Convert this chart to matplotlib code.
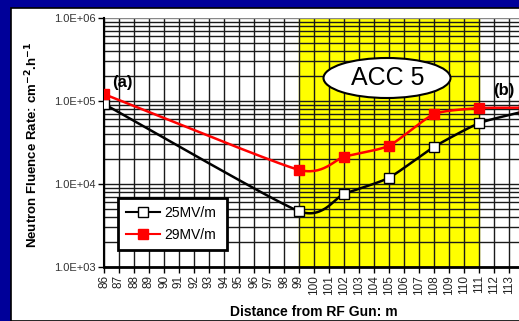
import numpy as np
import matplotlib
matplotlib.use("Agg")
import matplotlib.pyplot as plt
from matplotlib.patches import Ellipse, Rectangle
from matplotlib.lines import Line2D

plt.rcParams['font.family'] = ['Liberation Sans', 'DejaVu Sans']

# ---- data ----
dist = [86, 99, 102, 105, 108, 111, 114]
rate_25 = [9.2e4, 4.7e3, 7.6e3, 1.19e4, 2.8e4, 5.4e4, 7.5e4]
rate_29 = [1.21e5, 1.48e4, 2.13e4, 2.89e4, 6.96e4, 8.2e4, 8.3e4]
series_labels = ["25MV/m", "29MV/m"]
xticks = list(range(86, 114))
yticks = [1e3, 1e4, 1e5, 1e6]
ytick_labels = ["1.0E+03", "1.0E+04", "1.0E+05", "1.0E+06"]
acc_span = (99, 111)

W, H = 519, 321
fig = plt.figure(figsize=(W / 100, H / 100), dpi=100)
fig.patch.set_facecolor('#000099')

# white panel with black border line
fig.add_artist(Rectangle((11 / W, 0), 1, 1 - 8 / H, transform=fig.transFigure,
                         facecolor='white', edgecolor='black', linewidth=1.2, zorder=0))


def catmull(xs, ys, n=30):
    xs = np.asarray(xs, float)
    ys = np.asarray(ys, float)
    px = np.concatenate([[2 * xs[0] - xs[1]], xs, [2 * xs[-1] - xs[-2]]])
    py = np.concatenate([[2 * ys[0] - ys[1]], ys, [2 * ys[-1] - ys[-2]]])
    ox, oy = [], []
    for i in range(1, len(px) - 2):
        t = np.linspace(0, 1, n, endpoint=False)
        for arr, out in ((px, ox), (py, oy)):
            p0, p1, p2, p3 = arr[i - 1], arr[i], arr[i + 1], arr[i + 2]
            m1 = (p2 - p0) / 2 * 0.6
            m2 = (p3 - p1) / 2 * 0.6
            h00 = 2 * t**3 - 3 * t**2 + 1
            h10 = t**3 - 2 * t**2 + t
            h01 = -2 * t**3 + 3 * t**2
            h11 = t**3 - t**2
            out.extend(h00 * p1 + h10 * m1 + h01 * p2 + h11 * m2)
    ox.append(xs[-1])
    oy.append(ys[-1])
    return np.array(ox), np.array(oy)


left = 104 / W
bottom = 1 - 267 / H
top = 1 - 18 / H
x0, x1 = 86, 116
width = (x1 - x0) * 15 / W
ax = fig.add_axes([left, bottom, width, top - bottom])
ax.set_facecolor('white')
ax.set_xlim(x0, x1)
ax.set_yscale('log')
ax.set_ylim(1e3, 1e6)

ax.axvspan(acc_span[0], acc_span[1], color='#ffff00', zorder=0.5)

# grid
for xv in range(x0, x1 + 1):
    ax.axvline(xv, color='#1a1a1a', lw=1.0, zorder=1)
for dec in [1e3, 1e4, 1e5]:
    for m in range(1, 10):
        ax.axhline(dec * m, color='#1a1a1a', lw=1.0, zorder=1)
ax.axhline(1e6, color='#888888', lw=1.0, zorder=1)

sx, sy = catmull(dist, np.log10(rate_25))
ax.plot(sx, 10**sy, color='black', lw=1.8, zorder=3)
ax.plot(dist, rate_25, ls='none', marker='s', ms=7.5, mfc='white', mec='black', mew=1.0, zorder=4)

sx, sy = catmull(dist, np.log10(rate_29))
ax.plot(sx, 10**sy, color='#ff0000', lw=1.8, zorder=3)
ax.plot(dist, rate_29, ls='none', marker='s', ms=7.5, mfc='#ff0000', mec='#ff0000', zorder=4)

ax.set_xticks(xticks)
ax.set_xticklabels([str(v) for v in xticks], rotation=90, fontsize=8.5, color='#222222')
ax.set_yticks(yticks)
ax.set_yticklabels(ytick_labels, fontsize=8, color='#333333')
ax.yaxis.set_minor_locator(matplotlib.ticker.NullLocator())
ax.tick_params(axis='x', length=4, width=1, pad=2)
ax.tick_params(axis='y', length=4, width=1, pad=2)
for s in ['top', 'right']:
    ax.spines[s].set_visible(False)
ax.spines['left'].set_linewidth(1.5)
ax.spines['bottom'].set_linewidth(2)

# axis labels
fig.text(314 / W, 1 - 312 / H, "Distance from RF Gun: m", ha='center', va='center',
         fontsize=10, fontweight='bold')
fig.text(32 / W, 1 - 145 / H, r"Neutron Fluence Rate: cm$^{\mathbf{-2}}$.h$^{\mathbf{-1}}$",
         ha='center', va='center', rotation=90, fontsize=9.5, fontweight='bold')

# annotations
fig.text(122 / W, 1 - 82 / H, "(a)", ha='center', va='center', fontsize=12, fontweight='bold')
fig.text(493 / W, 1 - 90 / H, "(b)", ha='left', va='center', fontsize=12, fontweight='bold')
fig.add_artist(Ellipse((387 / W, 1 - 78 / H), 127 / W, 40 / H, transform=fig.transFigure,
                       facecolor='white', edgecolor='black', lw=1.5, zorder=5))
fig.text(388 / W, 1 - 78 / H, "ACC 5", ha='center', va='center', fontsize=18, zorder=6)

handles = [Line2D([], [], color='black', lw=1.5, marker='s', ms=7, mfc='white', mec='black'),
           Line2D([], [], color='#ff0000', lw=1.5, marker='s', ms=7, mfc='#ff0000', mec='#ff0000')]
leg = ax.legend(handles, series_labels, loc='upper left', mode='expand',
                bbox_to_anchor=(118 / W, 1 - 247 / H, 109 / W, 49 / H),
                bbox_transform=fig.transFigure,
                fancybox=False, framealpha=1, edgecolor='black', fontsize=10,
                handlelength=2.5, borderaxespad=0, borderpad=0.55, labelspacing=0.6,
                handletextpad=0.3)
leg.get_frame().set_linewidth(2)
leg.set_zorder(10)

fig.savefig("out.png", dpi=100, facecolor=fig.get_facecolor())
